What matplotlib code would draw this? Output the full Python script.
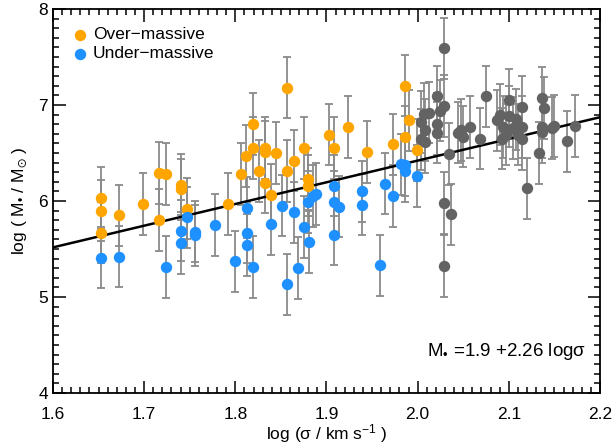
import numpy as np
import matplotlib
matplotlib.use("Agg")
import matplotlib.pyplot as plt
from matplotlib.ticker import MultipleLocator

plt.rcParams["font.family"] = ["Liberation Sans", "DejaVu Sans"]
plt.rcParams["mathtext.fontset"] = "custom"
plt.rcParams["mathtext.rm"] = "Liberation Sans"
plt.rcParams["mathtext.it"] = "Liberation Sans:italic"

# over-massive galaxies (log sigma, log M_bh)
over_x = [1.653, 1.653, 1.653, 1.672, 1.699, 1.716, 1.724, 1.716, 1.740, 1.740,
          1.747, 1.792, 1.806, 1.812, 1.819, 1.819, 1.826, 1.833, 1.833, 1.833,
          1.839, 1.845, 1.857, 1.857, 1.864, 1.875, 1.880, 1.880, 1.903, 1.908,
          1.924, 1.944, 1.973, 1.986, 1.991, 1.986, 1.999]
over_y = [6.03, 5.90, 5.67, 5.85, 5.97, 6.29, 6.28, 5.80, 6.17, 6.12,
          5.92, 5.97, 6.28, 6.47, 6.80, 6.55, 6.31, 6.55, 6.51, 6.19,
          6.06, 6.50, 7.18, 6.31, 6.42, 6.55, 6.23, 6.16, 6.69, 6.55,
          6.77, 6.51, 6.59, 7.20, 6.84, 6.67, 6.53]

# under-massive galaxies
under_x = [1.653, 1.672, 1.724, 1.740, 1.740, 1.747, 1.756, 1.756, 1.778, 1.800,
           1.813, 1.813, 1.813, 1.819, 1.839, 1.851, 1.864, 1.857, 1.869, 1.875,
           1.881, 1.880, 1.885, 1.889, 1.908, 1.908, 1.914, 1.908, 1.939, 1.939,
           1.964, 1.973, 1.959, 1.982, 1.986, 1.986, 1.999]
under_y = [5.41, 5.42, 5.31, 5.69, 5.56, 5.83, 5.68, 5.64, 5.75, 5.37,
           5.93, 5.67, 5.54, 5.31, 5.76, 5.95, 5.88, 5.13, 5.30, 5.73,
           5.57, 5.99, 6.05, 6.07, 6.16, 5.99, 5.94, 5.65, 6.10, 5.96,
           6.18, 6.05, 5.33, 6.38, 6.37, 6.31, 6.26]

# comparison sample (grey)
comp_x = [2.029, 2.021, 2.029, 2.024, 2.012, 2.007, 2.004, 2.021, 2.008, 2.021,
          2.004, 2.008, 2.034, 2.029, 2.037, 2.029, 2.048, 2.050, 2.057, 2.044,
          2.068, 2.075, 2.087, 2.090, 2.100, 2.094, 2.100, 2.108, 2.097, 2.093,
          2.105, 2.110, 2.114, 2.114, 2.114, 2.120, 2.136, 2.139, 2.136, 2.136,
          2.133, 2.147, 2.150, 2.164, 2.173]
comp_y = [7.59, 7.09, 6.99, 6.94, 6.92, 6.91, 6.82, 6.80, 6.74, 6.71,
          6.64, 6.61, 6.49, 5.98, 5.86, 5.32, 6.74, 6.67, 6.77, 6.71,
          6.65, 7.09, 6.84, 6.90, 7.05, 6.77, 6.88, 6.85, 6.69, 6.65,
          6.76, 6.69, 6.77, 6.98, 6.64, 6.13, 7.07, 6.97, 6.77, 6.72,
          6.50, 6.76, 6.78, 6.62, 6.78]

err = 0.32

# fit: log M = 1.9 + 2.26 log sigma
fit_a, fit_b = 1.9, 2.26

fig = plt.figure(figsize=(6.16, 4.47), dpi=100)
ax = fig.add_axes([0.086, 0.121, 0.888, 0.859])

ebar = dict(fmt="none", ecolor="#8a8a8a", elinewidth=1.3, capsize=3.2,
            capthick=1.3, zorder=1)
for xs, ys in [(comp_x, comp_y), (over_x, over_y), (under_x, under_y)]:
    ax.errorbar(xs, ys, yerr=err, **ebar)

xl = np.array([1.6, 2.2])
ax.plot(xl, fit_a + fit_b * xl, color="black", lw=1.8, zorder=2)

ms = 8.2
ax.plot(comp_x, comp_y, "o", color="#636363", ms=ms, mew=0, zorder=3)
ax.plot(over_x, over_y, "o", color="#FFA500", ms=ms, mew=0, zorder=3)
ax.plot(under_x, under_y, "o", color="#1E90FF", ms=ms, mew=0, zorder=3)

# legend, drawn by hand like the original
ax.plot([1.630], [7.73], "o", color="#FFA500", ms=ms, mew=0)
ax.plot([1.630], [7.535], "o", color="#1E90FF", ms=ms, mew=0)
ax.text(1.644, 7.73, "Over\u2212massive", fontsize=12.5, va="center")
ax.text(1.644, 7.535, "Under\u2212massive", fontsize=12.5, va="center")

ax.text(2.185, 4.43, "M$_{\u2022}$ =1.9 +2.26 log\u03c3", fontsize=13.5,
        ha="right", va="center")

ax.set_xlim(1.6, 2.2)
ax.set_ylim(4, 8)
ax.xaxis.set_major_locator(MultipleLocator(0.1))
ax.xaxis.set_minor_locator(MultipleLocator(0.01))
ax.yaxis.set_major_locator(MultipleLocator(1))
ax.yaxis.set_minor_locator(MultipleLocator(0.1))
ax.xaxis.set_major_formatter(plt.FormatStrFormatter("%.1f"))
ax.tick_params(which="both", direction="in", top=True, right=True,
               labelsize=12.5, width=1.1, colors="black")
ax.tick_params(which="major", length=9)
ax.tick_params(which="minor", length=4.5)
ax.tick_params(axis="x", which="major", pad=10)
for sp in ax.spines.values():
    sp.set_linewidth(1.3)

ax.set_xlabel("log (\u03c3 / km s$^{-1}$ )", fontsize=12.5, labelpad=0)
ax.set_ylabel("log ( M$_{\u2022}$ / M$_{\u2299}$ )", fontsize=12.5, labelpad=6)

fig.savefig("out.png", dpi=100)
